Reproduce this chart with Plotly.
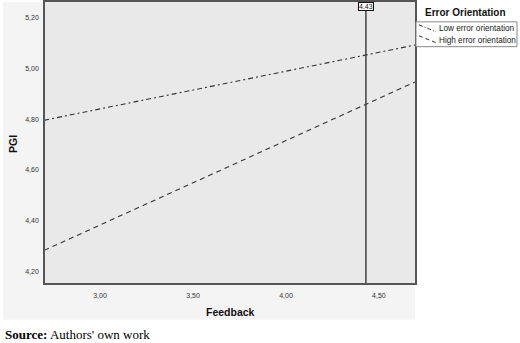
import plotly.graph_objects as go

# ---- data ----
feedback_x = [2.70, 4.70]
low_error_pgi = [4.796, 5.094]
high_error_pgi = [4.282, 4.949]
series_names = ["Low error orientation", "High error orientation"]
ref_value = [4.43]
x_ticks = [3.0, 3.5, 4.0, 4.5]
y_ticks = [4.2, 4.4, 4.6, 4.8, 5.0, 5.2]

# ---- layout geometry (pixels) ----
W_FIG, H_FIG = 520, 343
L, R, T, B = 45, 415, 0, 283
PW, PH = R - L, B - T


def px(x):
    return (x - L) / PW


def py(y):
    return (B - y) / PH


FONT = "Liberation Sans, Arial, sans-serif"
LINE_COL = "#333333"

fig = go.Figure()
fig.add_trace(go.Scatter(x=feedback_x, y=low_error_pgi, mode="lines", name=series_names[0],
                         line=dict(color=LINE_COL, width=1.1, dash="5px,3px,2px,3px"),
                         showlegend=False))
fig.add_trace(go.Scatter(x=feedback_x, y=high_error_pgi, mode="lines", name=series_names[1],
                         line=dict(color=LINE_COL, width=1.1, dash="5px,4px"),
                         showlegend=False))

shapes = [
    # outer chart background
    dict(type="rect", xref="paper", yref="paper", x0=px(3), x1=px(415), y0=py(320), y1=py(0),
         fillcolor="#f4f4f4", line=dict(width=0), layer="below"),
    # plot area background
    dict(type="rect", xref="paper", yref="paper", x0=0, x1=1, y0=0, y1=1,
         fillcolor="#e9e9e9", line=dict(width=0), layer="below"),
    # reference line
    dict(type="line", xref="x", yref="paper", x0=ref_value[0], x1=ref_value[0], y0=0, y1=1,
         line=dict(color="#404040", width=1.5)),
    # legend box
    dict(type="rect", xref="paper", yref="paper", x0=px(416), x1=px(517), y0=py(45), y1=py(20),
         fillcolor="white", line=dict(color="#888888", width=1)),
    dict(type="line", xref="paper", yref="paper", x0=px(419), x1=px(436), y0=py(23), y1=py(30),
         line=dict(color=LINE_COL, width=1, dash="4px,2px,1px,2px")),
    dict(type="line", xref="paper", yref="paper", x0=px(419), x1=px(436), y0=py(34), y1=py(41),
         line=dict(color=LINE_COL, width=1, dash="4px,3px")),
]

annotations = [
    dict(xref="x", yref="paper", x=ref_value[0], y=1, text="4.43", showarrow=False,
         xanchor="center", yanchor="top", font=dict(family=FONT, size=7, color="#111"),
         bgcolor="white", bordercolor="#111", borderwidth=1, borderpad=0),
    dict(xref="paper", yref="paper", x=px(423), y=py(11), text="<b>Error Orientation</b>",
         showarrow=False, xanchor="left", yanchor="middle",
         font=dict(family=FONT, size=10, color="#111")),
    dict(xref="paper", yref="paper", x=px(437), y=py(27), text=series_names[0],
         showarrow=False, xanchor="left", yanchor="middle",
         font=dict(family=FONT, size=8.2, color="#222")),
    dict(xref="paper", yref="paper", x=px(437), y=py(38.5), text=series_names[1],
         showarrow=False, xanchor="left", yanchor="middle",
         font=dict(family=FONT, size=8.2, color="#222")),
    dict(xref="paper", yref="paper", x=px(230), y=py(312), text="<b>Feedback</b>",
         showarrow=False, xanchor="center", yanchor="middle",
         font=dict(family=FONT, size=10.5, color="#111")),
    dict(xref="paper", yref="paper", x=px(13), y=py(143), text="<b>PGI</b>", textangle=-90,
         showarrow=False, xanchor="center", yanchor="middle",
         font=dict(family=FONT, size=10.5, color="#111")),
    dict(xref="paper", yref="paper", x=px(3), y=py(335), text="<b>Source:</b> Authors' own work",
         showarrow=False, xanchor="left", yanchor="middle",
         font=dict(family="Liberation Serif, Times New Roman, serif", size=13, color="#000")),
]

fig.update_layout(
    width=W_FIG, height=H_FIG,
    margin=dict(l=L, r=W_FIG - R, t=T, b=H_FIG - B, pad=0),
    paper_bgcolor="white", plot_bgcolor="rgba(0,0,0,0)",
    separators=",.",
    font=dict(family=FONT, size=7, color="#333"),
    shapes=shapes, annotations=annotations,
    showlegend=False,
)
fig.update_xaxes(range=[2.704, 4.694], tickvals=x_ticks, tickformat=".2f",
                 showline=True, mirror=True, linecolor="#555", linewidth=1.5,
                 showgrid=False, zeroline=False, ticks="", ticklabelstandoff=5,
                 tickfont=dict(size=7, color="#333"))
fig.update_yaxes(range=[4.153, 5.263], tickvals=y_ticks, tickformat=".2f",
                 showline=True, mirror=True, linecolor="#555", linewidth=1.5,
                 showgrid=False, zeroline=False, ticks="", ticklabelstandoff=3,
                 tickfont=dict(size=7, color="#333"))

fig.write_html("out.html")
